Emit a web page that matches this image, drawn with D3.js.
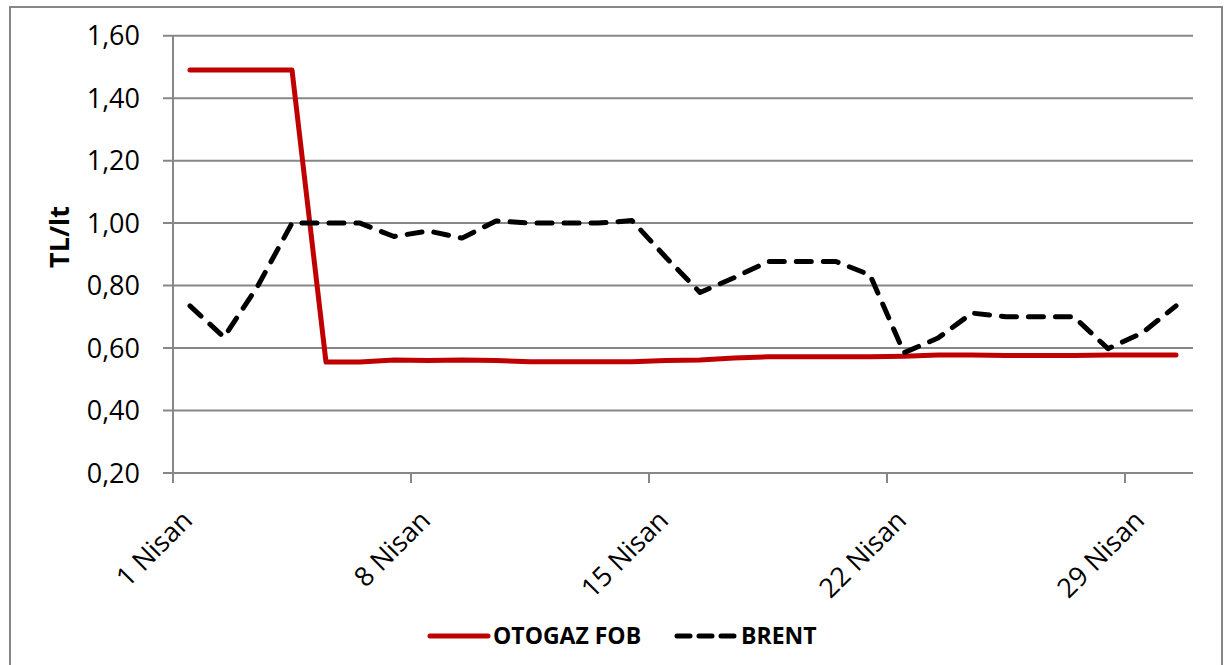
<!DOCTYPE html>
<html><head><meta charset="utf-8">
<script src="https://cdn.jsdelivr.net/npm/d3@7"></script>
<style>body{margin:0;background:#fff;overflow:hidden}</style>
</head><body><svg id="c" width="1227" height="665"></svg>
<script>
const otogazDays   = [1,2,3,4,5,6,7,8,9,10,11,12,13,14,15,16,17,18,19,20,21,22,23,24,25,26,27,28,29,30];
const otogazValues = [1.49,1.49,1.49,1.49,0.555,0.555,0.562,0.560,0.562,0.560,0.556,0.556,0.556,0.556,0.560,0.562,0.568,0.572,0.572,0.572,0.572,0.574,0.578,0.578,0.576,0.576,0.576,0.578,0.578,0.578];
const brentDays    = [1,2,3,4,5,6,7,8,9,10,11,12,13,14,15,16,17,18,19,20,21,22,23,24,25,26,27,28,29,30];
const brentValues  = [0.735,0.635,0.80,1.00,1.00,1.00,0.957,0.975,0.952,1.007,1.00,1.00,1.00,1.008,0.89,0.778,0.825,0.877,0.877,0.877,0.834,0.585,0.632,0.712,0.70,0.70,0.70,0.598,0.648,0.735];
const yTicks       = [0.2,0.4,0.6,0.8,1.0,1.2,1.4,1.6];
const xTickDays    = [1,8,15,22,29];
const xTickLabels  = ["1 Nisan","8 Nisan","15 Nisan","22 Nisan","29 Nisan"];
const seriesNames  = ["OTOGAZ FOB","BRENT"];
const yTitle       = "TL/lt";

const FONT = "'Open Sans', sans-serif";
const svg = d3.select("#c");
const gray = "#878787";

// frame
svg.append("rect").attr("x",10).attr("y",7).attr("width",1212).attr("height",700)
  .attr("fill","#fff").attr("stroke",gray).attr("stroke-width",2);

const x = d3.scaleLinear().domain([1,31]).range([173,1193]);
const y = d3.scaleLinear().domain([0.2,1.6]).range([473,35.7]);

// gridlines
svg.append("g").selectAll("line").data(yTicks).join("line")
  .attr("x1",163).attr("x2",x(31))
  .attr("y1",d=>y(d)).attr("y2",d=>y(d))
  .attr("stroke",gray).attr("stroke-width",2);

// y axis line
svg.append("line").attr("x1",x(1)).attr("x2",x(1)).attr("y1",y(1.6)).attr("y2",y(0.2)+10)
  .attr("stroke",gray).attr("stroke-width",2);

// x ticks
svg.append("g").selectAll("line").data(xTickDays).join("line")
  .attr("x1",d=>x(d)).attr("x2",d=>x(d)).attr("y1",y(0.2)).attr("y2",y(0.2)+10)
  .attr("stroke",gray).attr("stroke-width",2);

// y labels
const fmt = d3.format(".2f");
svg.append("g").selectAll("text").data(yTicks).join("text")
  .attr("x",140).attr("y",d=>y(d)).attr("dy","0.36em")
  .attr("text-anchor","end").attr("font-family",FONT).attr("font-size",27).attr("fill","#000")
  .text(d=>fmt(d).replace(".",","));

// x labels
svg.append("g").selectAll("text").data(xTickDays).join("text")
  .attr("transform",(d)=>`translate(${x(d)+21},${y(0.2)+49}) rotate(-45)`)
  .attr("text-anchor","end").attr("font-family",FONT).attr("font-size",27).attr("fill","#000")
  .text((d,i)=>xTickLabels[i]);

// y title
svg.append("text").attr("transform",`translate(69,237) rotate(-90)`)
  .attr("text-anchor","middle").attr("font-family",FONT).attr("font-weight","bold")
  .attr("font-size",27).attr("fill","#000").text(yTitle);

const line = d3.line().x(d=>x(d[0]+0.5)).y(d=>y(d[1]));
svg.append("path").datum(otogazDays.map((d,i)=>[d,otogazValues[i]]))
  .attr("d",line).attr("fill","none").attr("stroke","#c00000").attr("stroke-width",5)
  .attr("stroke-linejoin","round").attr("stroke-linecap","round");
svg.append("path").datum(brentDays.map((d,i)=>[d,brentValues[i]]))
  .attr("d",line).attr("fill","none").attr("stroke","#000").attr("stroke-width",5)
  .attr("stroke-linejoin","round").attr("stroke-linecap","round").attr("stroke-dasharray","15,12");

// legend
const lg = svg.append("g").attr("font-family",FONT).attr("font-weight","bold").attr("font-size",23);
lg.append("line").attr("x1",430).attr("x2",488).attr("y1",636).attr("y2",636)
  .attr("stroke","#c00000").attr("stroke-width",5).attr("stroke-linecap","round");
lg.append("text").attr("x",493).attr("y",644).text(seriesNames[0]);
lg.append("line").attr("x1",677).attr("x2",735).attr("y1",636).attr("y2",636)
  .attr("stroke","#000").attr("stroke-width",5).attr("stroke-linecap","round").attr("stroke-dasharray","13,9");
lg.append("text").attr("x",741).attr("y",644).text(seriesNames[1]);
</script></body></html>
